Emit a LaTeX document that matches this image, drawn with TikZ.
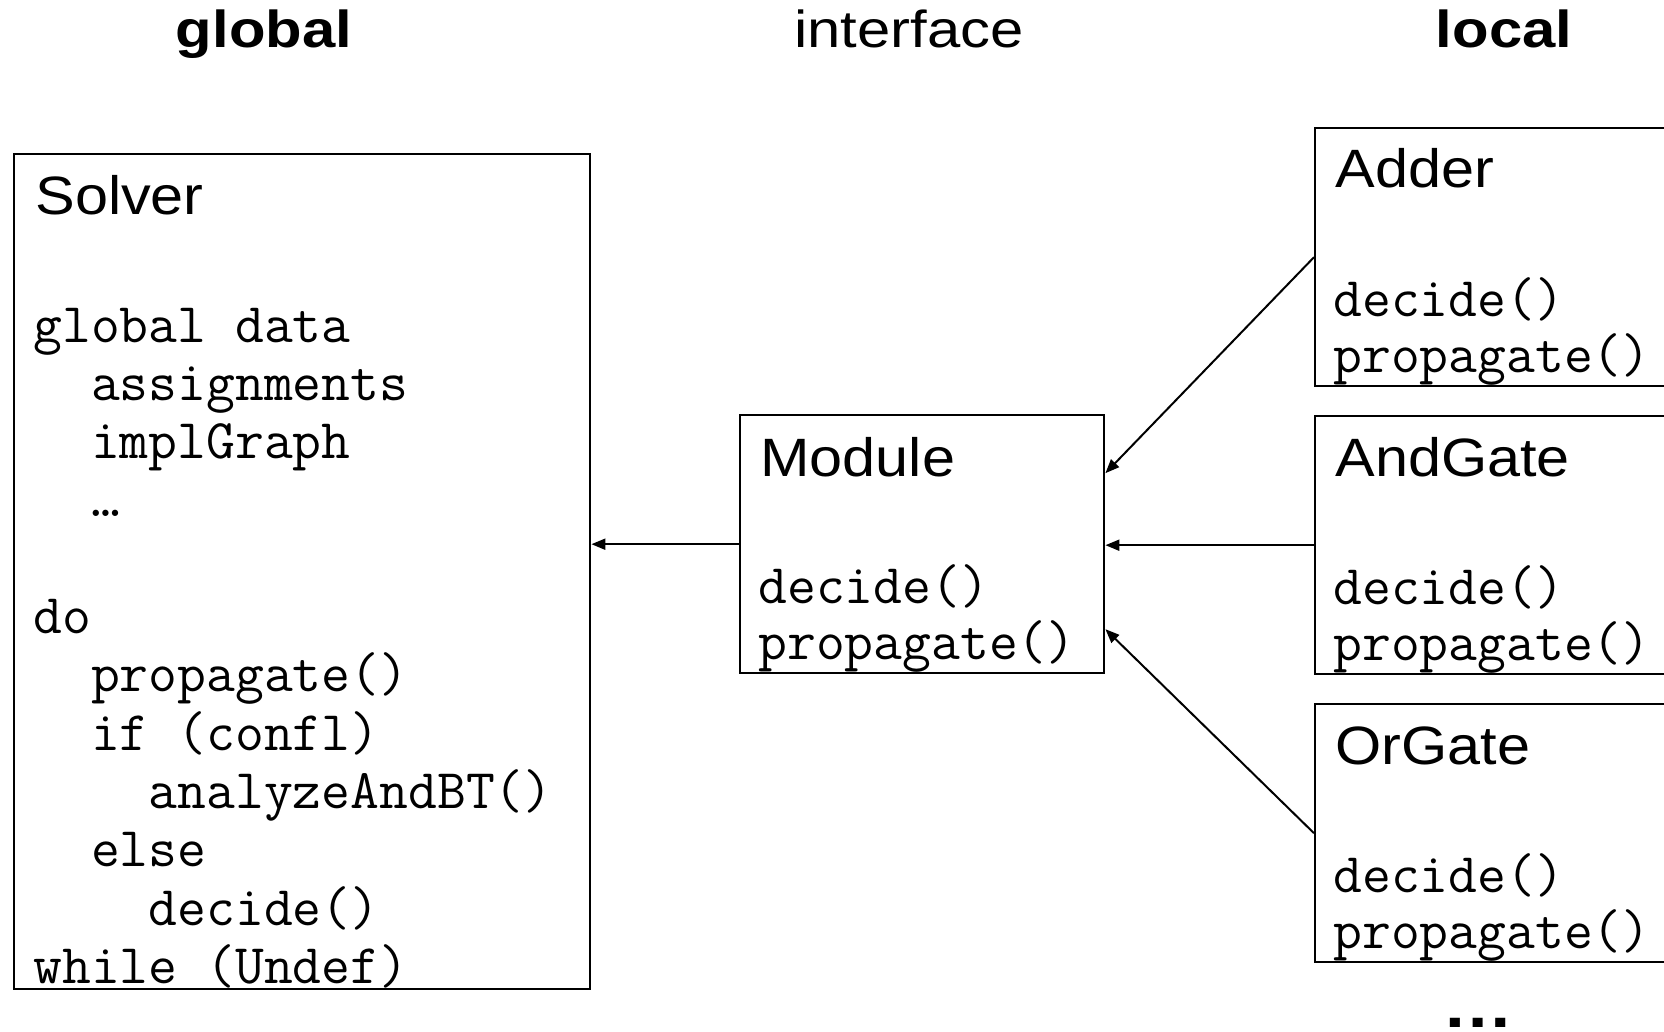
\documentclass[tikz,border=0pt]{standalone}
\usepackage{fontspec}
\setmainfont{Liberation Sans}
\newfontfamily\headfont{Liberation Sans}[FakeStretch=1.15]
\newfontfamily\titlefont{Liberation Sans}[FakeStretch=1.1]
\usetikzlibrary{arrows.meta,calc}

\tikzset{
  heading/.style={anchor=base,inner sep=0pt,font=\headfont\fontsize{26}{30}\selectfont},
  classbox/.style={draw,line width=1.2pt,anchor=north west,inner sep=0pt,
                   minimum width=182pt,minimum height=129pt},
  classname/.style={anchor=base west,inner sep=0pt,font=\titlefont\fontsize{27}{32}\selectfont},
  code/.style={anchor=base west,inner sep=0pt,font=\ttfamily\fontsize{28}{32}\selectfont},
  uses/.style={-{Triangle[length=7pt,width=5.5pt]},line width=1pt},
}

\begin{document}
\begin{tikzpicture}[x=0.5pt,y=-0.5pt]
  \useasboundingbox (0,0) rectangle (1664,1032);
  \clip (0,0) rectangle (1664,1032);

  % column headings
  \node[heading] (hglobal) at (264,48) {\bfseries global};
  \node[heading] (hiface) at (909,48) {interface};
  \node[heading] (hlocal) at (1504,48) {\bfseries local};

  % global solver
  \node[classbox,minimum width=288pt,minimum height=417.5pt] (solver) at (13,153) {};
  \node[classname] (solver-name) at ($(solver.north west)+(22,62)$) {Solver};
  \foreach \n/\line in {0/global data, 1/~~assignments, 2/~~implGraph, 3/~~\ldots,
                        5/do, 6/~~propagate(), 7/~~if (confl), 8/~~~~analyzeAndBT(),
                        9/~~else, 10/~~~~decide(), 11/while (Undef)}
    \node[code] (solver-\n) at ($(solver.north west)+(20,189+58.3*\n)$) {\line};

  % interface
  \node[classbox] (module) at (739,414) {};
  \node[classname] (module-name) at ($(module.north west)+(21,62)$) {Module};
  \node[code] (module-decide) at ($(module.north west)+(19,189)$) {decide()};
  \node[code] (module-prop) at ($(module.north west)+(19,245)$) {propagate()};

  % local modules
  \foreach \nm/\ttl/\yy in {adder/Adder/127, andgate/AndGate/415, orgate/OrGate/703} {
    \node[classbox] (\nm) at (1314,\yy) {};
    \node[classname] (\nm-name) at ($(\nm.north west)+(21,61)$) {\ttl};
    \node[code] (\nm-decide) at ($(\nm.north west)+(19,189)$) {decide()};
    \node[code] (\nm-prop) at ($(\nm.north west)+(19,245)$) {propagate()};
  }
  \node[heading,text depth=0pt,font=\headfont\bfseries\fontsize{31}{36}\selectfont]
    (more) at (1478,1027) {…};

  % connections
  \draw[uses] (module.west) -- (module.west -| solver.east);
  \draw[uses] (andgate.west) -- (andgate.west -| module.east);
  \draw[uses] (adder.west) -- ($(module.east)+(0,-71)$);
  \draw[uses] (orgate.west) -- ($(module.east)+(0,85)$);
\end{tikzpicture}
\end{document}
